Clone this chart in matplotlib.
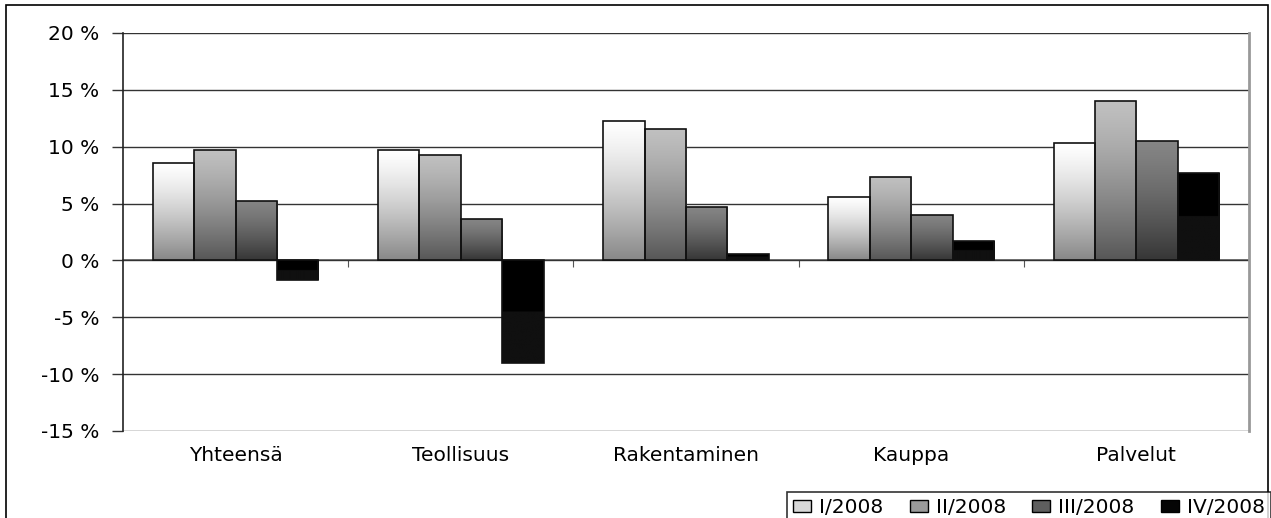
import numpy as np
import matplotlib
matplotlib.use("Agg")
import matplotlib.pyplot as plt
from matplotlib.patches import Rectangle, Patch
from matplotlib.ticker import FuncFormatter

categories = ["Yhteensä", "Teollisuus", "Rakentaminen", "Kauppa", "Palvelut"]
series_names = ["I/2008", "II/2008", "III/2008", "IV/2008"]
q1 = [8.6, 9.7, 12.3, 5.6, 10.3]
q2 = [9.7, 9.3, 11.6, 7.3, 14.0]
q3 = [5.2, 3.6, 4.7, 4.0, 10.5]
q4 = [-1.7, -9.0, 0.6, 1.7, 7.7]
series_values = [q1, q2, q3, q4]

# gradient (top colour, bottom colour) for each series
gradients = [("#ffffff", "#888888"), ("#c0c0c0", "#575757"),
             ("#858585", "#363636"), ("#000000", "#101010")]
legend_colors = ["#d8d8d8", "#9a9a9a", "#5e5e5e", "#050505"]

# the original is stretched sideways, a wide font gets closer
plt.rcParams['font.family'] = ['DejaVu Sans']
FS = 14.5

fig = plt.figure(figsize=(12.71, 5.18), dpi=100)
ax = fig.add_axes([123/1271, 1 - 431/518, (1249-123)/1271, (431-33)/518])

ax.set_xlim(-0.5, 4.5)
ax.set_ylim(-15, 20)
ax.set_yticks(np.arange(-15, 21, 5))
ax.yaxis.set_major_formatter(FuncFormatter(lambda v, p: f"{v:.0f} %"))
ax.tick_params(axis='y', length=8, width=1, color='#333333', pad=9, labelsize=FS)
ax.grid(axis='y', color='#333333', lw=1)
ax.set_axisbelow(True)

ax.set_xticks(range(len(categories)))
ax.set_xticklabels(categories, fontsize=FS)
ax.tick_params(axis='x', length=0, pad=11)

for s in ['top', 'bottom']:
    ax.spines[s].set_visible(False)
ax.spines['left'].set_color('#222222')
ax.spines['left'].set_linewidth(1.2)
ax.spines['right'].set_color('#999999')
ax.spines['right'].set_linewidth(2)

# zero axis with ticks between categories
sec = ax.secondary_xaxis(15/35)
sec.set_xticks(np.arange(0.5, 4.5, 1))
sec.tick_params(length=5, direction='out', labelbottom=False, labeltop=False,
                bottom=True, top=False, color='#555555')
sec.spines['bottom'].set_color('#666666')
sec.spines['bottom'].set_linewidth(1.2)

width = 0.184
x = np.arange(len(categories))
for i, (vals, (ctop, cbot)) in enumerate(zip(series_values, gradients)):
    bars = ax.bar(x + (i - 1.5) * width, vals, width, facecolor='none',
                  edgecolor='#111111', lw=1.2, zorder=3)
    c1 = np.array(matplotlib.colors.to_rgb(ctop))
    c2 = np.array(matplotlib.colors.to_rgb(cbot))
    for b in bars:
        x0, y0 = b.get_x(), b.get_y()
        w, h = b.get_width(), b.get_height()
        lo, hi = min(y0, y0 + h), max(y0, y0 + h)
        if i == 3:
            t = np.where(np.linspace(0, 1, 200) < 0.5, 0.0, 1.0)
        else:
            t = np.linspace(0, 1, 200) ** 1.3
        img = (c1[None, :] * (1 - t[:, None]) + c2[None, :] * t[:, None])[:, None, :]
        im = ax.imshow(img, extent=(x0, x0 + w, lo, hi), origin='upper',
                       aspect='auto', zorder=2, interpolation='bilinear')
        im.set_clip_path(b)

ax.set_xlim(-0.5, 4.5)
ax.set_ylim(-15, 20)

# outer chart border
fig.patches.append(Rectangle((6/1271, -0.05), 1262/1271, 1.05 - 5/518,
                             transform=fig.transFigure, fill=False,
                             edgecolor='black', lw=1.2))

handles = [Patch(facecolor=c, edgecolor='black', lw=1) for c in legend_colors]
leg = fig.legend(handles, series_names, loc='lower right',
                 bbox_to_anchor=(1.0, -0.01), ncol=4, frameon=True,
                 fontsize=FS, handlelength=0.9, handleheight=0.55,
                 handletextpad=0.4, columnspacing=1.3, borderpad=0.3,
                 borderaxespad=0, fancybox=False)
leg.get_frame().set_edgecolor('black')
leg.get_frame().set_linewidth(1.2)

fig.savefig("out.png", dpi=100)
